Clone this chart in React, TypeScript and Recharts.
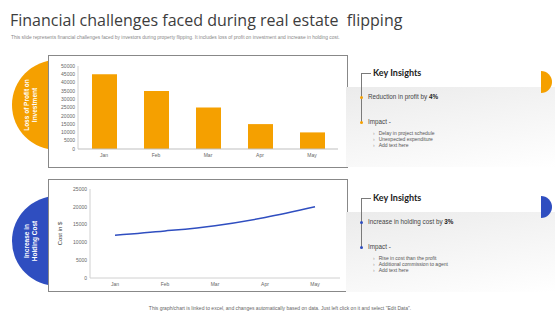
import React from "react";
import {
  Bar,
  BarChart,
  Line,
  LineChart,
  XAxis,
  YAxis,
} from "recharts";

const MONTHS = ["Jan", "Feb", "Mar", "Apr", "May"];
const PROFIT_LOSS = [45000, 35000, 25000, 15000, 10000];
const HOLDING_COST = [12000, 13200, 14700, 17000, 20000];
const PROFIT_TICKS = [0, 5000, 10000, 15000, 20000, 25000, 30000, 35000, 40000, 45000, 50000];
const COST_TICKS = [0, 5000, 10000, 15000, 20000, 25000];

const TOP_POINTS = ["Delay in project schedule", "Unexpected expenditure", "Add text here"];
const BOTTOM_POINTS = ["Rise in cost than the profit", "Additional commission to agent", "Add text here"];

const ORANGE = "#F5A000";
const BLUE = "#2F4EC0";
const TICK = { fontSize: 5, fill: "#666", fontFamily: "Liberation Sans" };

const profitData = MONTHS.map((m, i) => ({ month: m, value: PROFIT_LOSS[i] }));
const costData = MONTHS.map((m, i) => ({ month: m, value: HOLDING_COST[i] }));

function SideBadge({ top, color, lines }: { top: number; color: string; lines: string[] }) {
  return (
    <div
      style={{
        position: "absolute",
        left: 12,
        top,
        width: 90,
        height: 90,
        borderRadius: "50%",
        background: color,
      }}
    >
      <div
        style={{
          position: "absolute",
          left: 18,
          top: 45,
          transform: "translate(-50%, -50%) rotate(-90deg)",
          color: "#fff",
          fontFamily: "Liberation Sans",
          fontWeight: 700,
          fontSize: 6.5,
          lineHeight: "7.5px",
          textAlign: "center",
          whiteSpace: "nowrap",
        }}
      >
        {lines.map((l) => (
          <div key={l}>{l}</div>
        ))}
      </div>
    </div>
  );
}

function Insights({
  top,
  color,
  headline,
  bold,
  points,
}: {
  top: number;
  color: string;
  headline: string;
  bold: string;
  points: string[];
}) {
  return (
    <div style={{ position: "absolute", left: 346, top, width: 214, height: 112 }}>
      <div
        style={{
          position: "absolute",
          left: 0,
          top: 32,
          width: 209,
          height: 80,
          background: "linear-gradient(170deg, #ebebeb 0%, #f6f6f6 55%, #ffffff 100%)",
        }}
      />
      <div
        style={{
          position: "absolute",
          left: 195,
          top: 16,
          width: 11,
          height: 22,
          borderRadius: "0 11px 11px 0",
          background: color,
        }}
      />
      <div style={{ position: "absolute", left: 15, top: 18, width: 1, height: 50, background: "#7a7a7a" }} />
      <div style={{ position: "absolute", left: 15, top: 18, width: 10, height: 1, background: "#7a7a7a" }} />
      <div style={{ position: "absolute", left: 14, top: 41, width: 3, height: 3, borderRadius: 2, background: color }} />
      <div style={{ position: "absolute", left: 14, top: 66, width: 3, height: 3, borderRadius: 2, background: color }} />
      <div
        style={{
          position: "absolute",
          left: 27,
          top: 12,
          fontFamily: "Lato",
          fontWeight: 700,
          fontSize: 9,
          color: "#222",
        }}
      >
        Key Insights
      </div>
      <div
        style={{
          position: "absolute",
          left: 22,
          top: 38,
          fontFamily: "Liberation Sans",
          fontSize: 6.3,
          color: "#444",
          whiteSpace: "nowrap",
        }}
      >
        {headline} <b style={{ color: "#222" }}>{bold}</b>
      </div>
      <div
        style={{
          position: "absolute",
          left: 22,
          top: 63,
          fontFamily: "Liberation Sans",
          fontSize: 6.3,
          color: "#444",
        }}
      >
        Impact -
      </div>
      {points.map((p, i) => (
        <div
          key={p}
          style={{
            position: "absolute",
            left: 27,
            top: 75 + i * 6,
            fontFamily: "Liberation Sans",
            fontSize: 5,
            lineHeight: "6px",
            color: "#555",
            whiteSpace: "nowrap",
          }}
        >
          <span style={{ color: "#999", marginRight: 4 }}>›</span>
          {p}
        </div>
      ))}
    </div>
  );
}

export default function App() {
  return (
    <div
      style={{
        position: "fixed",
        left: 0,
        top: 0,
        width: 560,
        height: 315,
        background: "#fff",
        overflow: "hidden",
      }}
    >
      <div
        style={{
          position: "absolute",
          left: 10,
          top: 9,
          fontFamily: "Open Sans",
          fontSize: 16,
          color: "#3d3d3d",
          whiteSpace: "nowrap",
        }}
      >
        Financial challenges faced during real estate&nbsp; flipping
      </div>
      <div
        style={{
          position: "absolute",
          left: 11,
          top: 35,
          fontFamily: "Liberation Sans",
          fontSize: 4.9,
          color: "#888",
          whiteSpace: "nowrap",
        }}
      >
        This slide represents financial challenges faced by investors during property flipping. It includes loss of profit on investment and increase in holding cost.
      </div>

      <SideBadge top={60} color={ORANGE} lines={["Loss of Profit on", "Investment"]} />
      <SideBadge top={196} color={BLUE} lines={["Increase in", "Holding Cost"]} />

      <div
        style={{
          position: "absolute",
          left: 48,
          top: 55,
          width: 298,
          height: 111,
          border: "1px solid #888",
          background: "#fff",
        }}
      />
      <div
        style={{
          position: "absolute",
          left: 48,
          top: 179,
          width: 298,
          height: 111,
          border: "1px solid #888",
          background: "#fff",
        }}
      />

      <div style={{ position: "absolute", left: 48, top: 55 }}>
        <BarChart width={300} height={112} data={profitData} margin={{ top: 11, right: 10, bottom: 6, left: 0 }}>
          <XAxis
            dataKey="month"
            tick={TICK}
            tickLine={false}
            tickSize={0}
            tickMargin={4}
            height={12}
            axisLine={{ stroke: "#bfbfbf" }}
          />
          <YAxis
            ticks={PROFIT_TICKS}
            domain={[0, 50000]}
            interval={0}
            tick={TICK}
            tickLine={false}
            tickSize={0}
            tickMargin={3}
            width={30}
            axisLine={{ stroke: "#d0d0d0" }}
          />
          <Bar dataKey="value" fill={ORANGE} barSize={25} isAnimationActive={false} />
        </BarChart>
      </div>

      <div style={{ position: "absolute", left: 48, top: 179 }}>
        <LineChart width={300} height={111} data={costData} margin={{ top: 10, right: 8, bottom: 0, left: 0 }}>
          <XAxis
            dataKey="month"
            tick={TICK}
            tickLine={false}
            tickSize={0}
            tickMargin={4}
            height={12}
            padding={{ left: 25, right: 25 }}
            axisLine={{ stroke: "#d0d0d0" }}
          />
          <YAxis
            ticks={COST_TICKS}
            domain={[0, 25000]}
            interval={0}
            tick={TICK}
            tickLine={false}
            tickSize={0}
            tickMargin={3}
            width={42}
            axisLine={{ stroke: "#d0d0d0" }}
            label={{
              value: "Cost in $",
              angle: -90,
              position: "insideLeft",
              offset: 12,
              style: { fontSize: 6, fill: "#333", fontFamily: "Liberation Sans", textAnchor: "middle" },
            }}
          />
          <Line
            type="monotone"
            dataKey="value"
            stroke={BLUE}
            strokeWidth={1.5}
            dot={false}
            isAnimationActive={false}
          />
        </LineChart>
      </div>

      <Insights top={55} color={ORANGE} headline="Reduction in profit by" bold="4%" points={TOP_POINTS} />
      <Insights top={180} color={BLUE} headline="Increase  in holding cost by" bold="3%" points={BOTTOM_POINTS} />

      <div
        style={{
          position: "absolute",
          left: 0,
          top: 305,
          width: 560,
          textAlign: "center",
          fontFamily: "Liberation Sans",
          fontSize: 5,
          color: "#666",
        }}
      >
        This graph/chart is linked to excel, and changes automatically based on data. Just left click on it and select "Edit Data".
      </div>
    </div>
  );
}
